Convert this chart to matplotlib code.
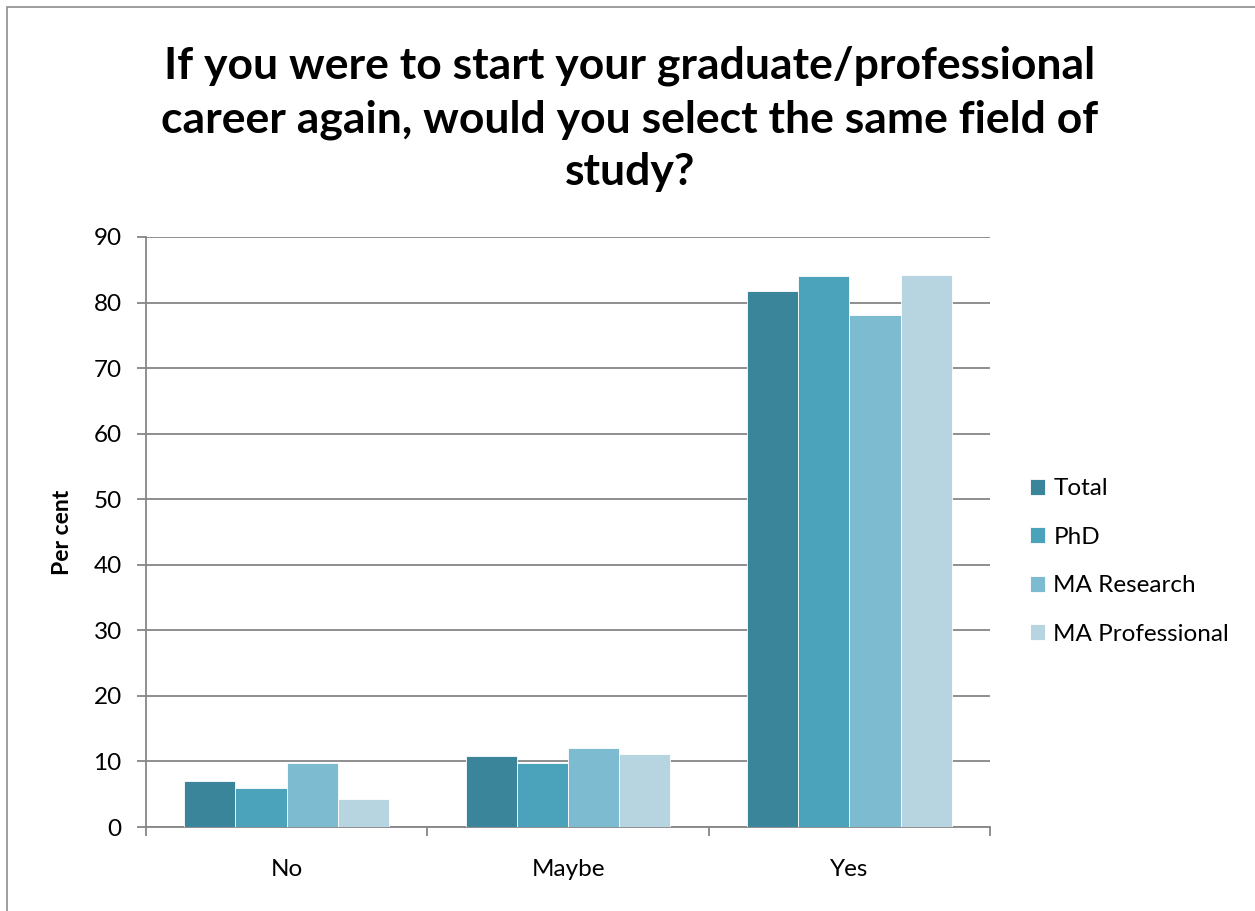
import numpy as np
import matplotlib.pyplot as plt
from matplotlib.patches import Rectangle

plt.rcParams['font.family'] = ['Lato', 'DejaVu Sans']

# data
categories = ['No', 'Maybe', 'Yes']
series = ['Total', 'PhD', 'MA Research', 'MA Professional']
total = [7.0, 10.9, 81.8]
phd = [6.0, 9.8, 84.1]
ma_research = [9.7, 12.1, 78.1]
ma_professional = [4.3, 11.2, 84.2]
colors = ['#3A8599', '#4AA3BA', '#7DBBD0', '#B6D5E0']

values = [total, phd, ma_research, ma_professional]

fig = plt.figure(figsize=(12.55, 9.11), dpi=100)
ax = fig.add_axes([146/1255, 1 - 827/911, (990-146)/1255, (827-237)/911])

# outer chart border
fig.patches.append(Rectangle((7/1255, -0.01), 1.2, 1 - 7/911 + 0.01, transform=fig.transFigure,
                             fill=False, edgecolor='#8c8c8c', linewidth=1.2))

x = np.arange(len(categories))
w = 0.182
for i, (name, vals) in enumerate(zip(series, values)):
    ax.bar(x + (i - 1.5) * w, vals, w, color=colors[i], label=name,
           edgecolor='white', linewidth=0.6, zorder=3)

ax.set_xlim(-0.5, 2.5)
ax.set_ylim(0, 90)
ax.set_yticks(np.arange(0, 91, 10))
ax.yaxis.grid(True, color='#868686', linewidth=1.3, zorder=0)
ax.set_xticks(x)
ax.set_xticklabels(categories)
ax.set_xticks([-0.5, 0.5, 1.5, 2.5], minor=True)
ax.tick_params(axis='x', which='major', length=0, pad=23, labelsize=17.5)
ax.tick_params(axis='x', which='minor', length=6.5, width=1.3, color='#868686', direction='out')
ax.tick_params(axis='y', length=6.5, width=1.3, color='#868686', labelsize=17.5, pad=11)

for s in ['top', 'right']:
    ax.spines[s].set_visible(False)
for s in ['left', 'bottom']:
    ax.spines[s].set_color('#868686')
    ax.spines[s].set_linewidth(1.3)

ax.set_ylabel('Per cent', fontsize=16.5, fontweight='bold', labelpad=15)

fig.text(630/1255, 1 - 119/911,
         'If you were to start your graduate/professional\ncareer again, would you select the same field of\nstudy?',
         ha='center', va='center', fontsize=32, fontweight='bold', linespacing=1.38)

ax.legend(loc='center left', bbox_to_anchor=(1.047, 0.45), frameon=False,
          fontsize=17.5, handlelength=0.63, handleheight=0.63, labelspacing=1.13,
          handletextpad=0.35, borderaxespad=0, borderpad=0)

fig.savefig('out.png', dpi=100)
